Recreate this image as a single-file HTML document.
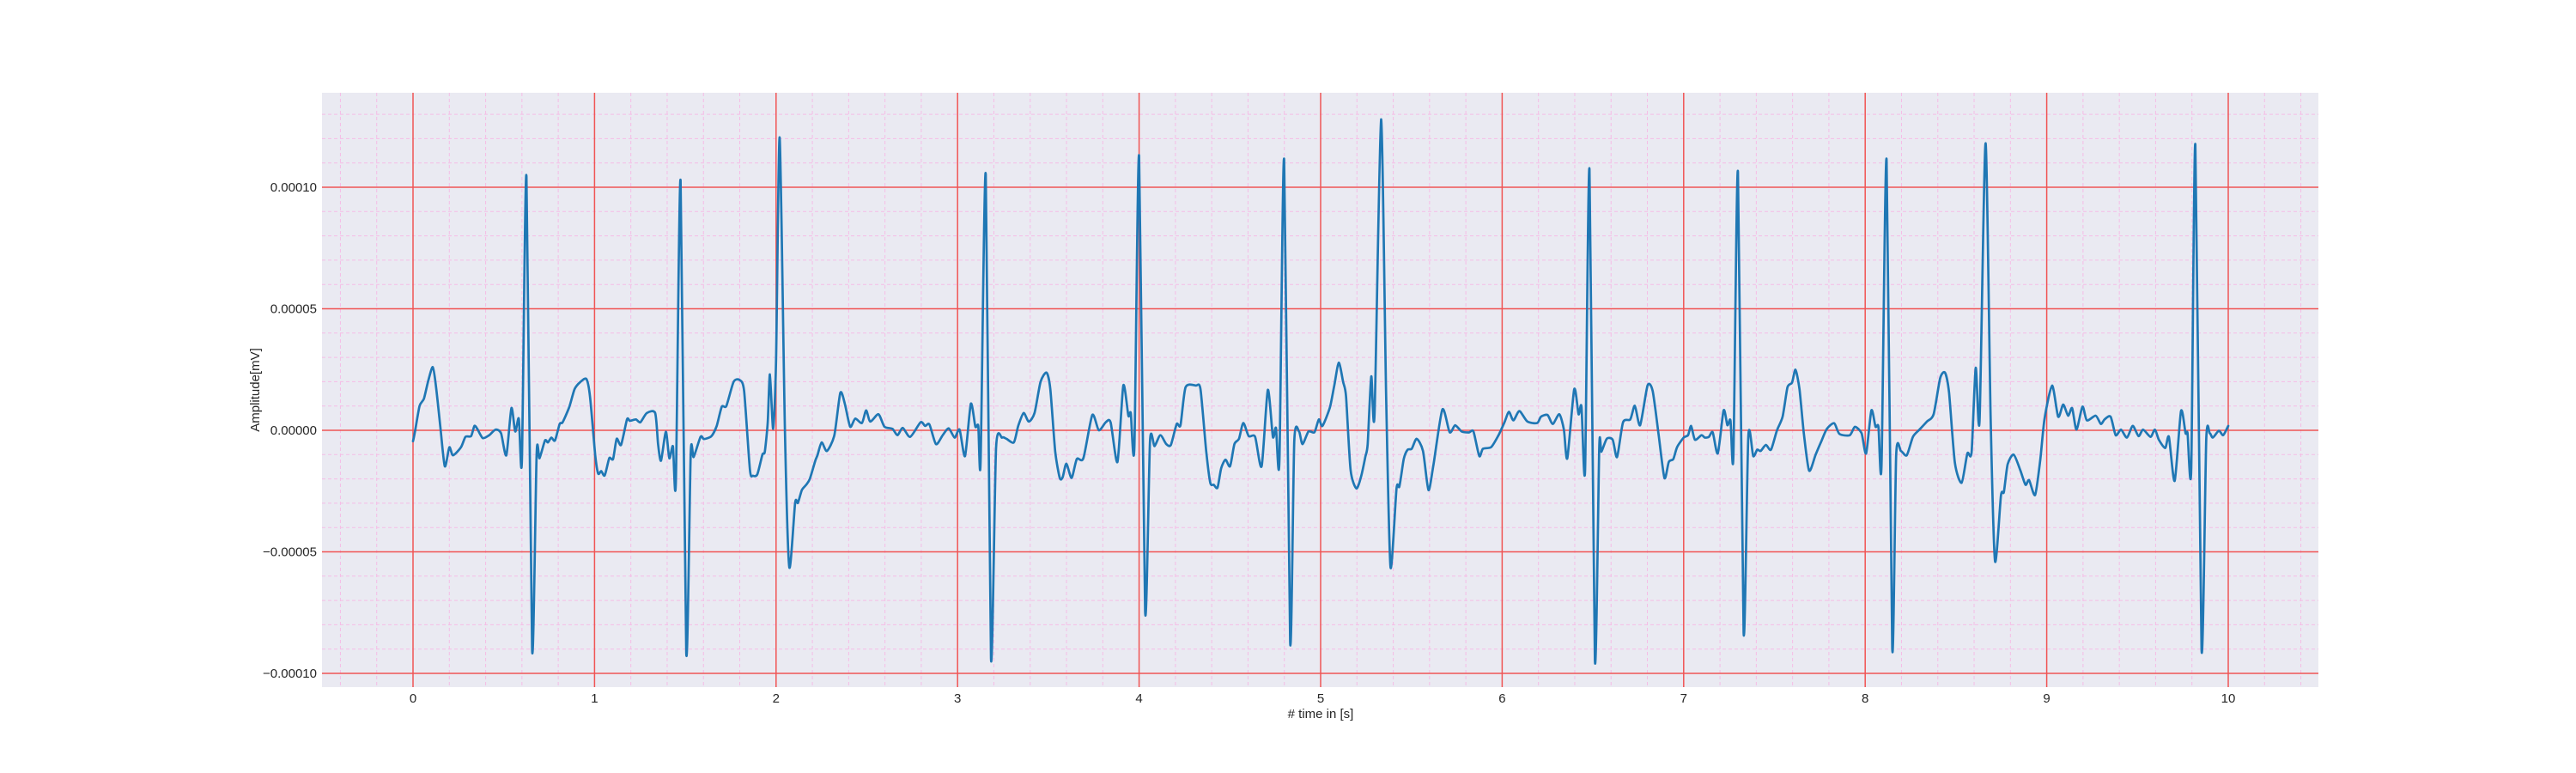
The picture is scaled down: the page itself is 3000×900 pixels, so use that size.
<!DOCTYPE html>
<html><head><meta charset="utf-8"><style>
html,body{margin:0;padding:0;background:#fff;}
svg{display:block;font-family:"Liberation Sans",sans-serif;}
</style></head><body>
<svg id="chart" width="3000" height="900" viewBox="0 0 3000 900" xmlns="http://www.w3.org/2000/svg">
<rect x="375" y="108" width="2325" height="692" fill="#eaeaf2"/>
<g id="grid"></g>
<g id="ticks"></g>
<path id="signal" fill="none" stroke="#1f77b4" stroke-width="2.7" stroke-linejoin="round" stroke-linecap="round"/>
<text x="1538" y="836" font-size="15" text-anchor="middle" fill="#262626"># time in [s]</text>
<text x="0" y="0" font-size="15" text-anchor="middle" fill="#262626" transform="translate(302,454) rotate(-90)">Amplitude[mV]</text>
</svg>
<script>
const xTicks=[0,1,2,3,4,5,6,7,8,9,10];
const yTicks=[-0.0001,-0.00005,0,0.00005,0.0001];
const yTickLabels=["\u22120.00010","\u22120.00005","0.00000","0.00005","0.00010"];
const times=[0,0.011,0.036,0.06,0.085,0.109,0.126,0.15,0.175,0.2,0.22,0.264,0.289,0.32,0.338,0.354,0.384,0.42,0.455,0.485,0.514,0.542,0.563,0.583,0.6,0.625,0.656,0.681,0.697,0.727,0.743,0.762,0.782,0.808,0.824,0.86,0.89,0.922,0.955,0.975,1.004,1.02,1.037,1.056,1.081,1.102,1.122,1.146,1.179,1.195,1.228,1.252,1.288,1.334,1.35,1.366,1.393,1.412,1.432,1.448,1.474,1.505,1.53,1.546,1.584,1.603,1.644,1.673,1.701,1.726,1.766,1.799,1.824,1.856,1.873,1.897,1.925,1.938,1.954,1.966,1.984,2.0,2.02,2.049,2.073,2.105,2.12,2.142,2.166,2.186,2.216,2.228,2.251,2.28,2.321,2.354,2.379,2.408,2.436,2.473,2.496,2.519,2.564,2.597,2.641,2.669,2.698,2.739,2.796,2.821,2.845,2.881,2.918,2.951,2.984,3.011,3.041,3.073,3.098,3.114,3.127,3.155,3.184,3.212,3.245,3.269,3.31,3.334,3.364,3.392,3.424,3.457,3.49,3.511,3.538,3.563,3.579,3.599,3.628,3.657,3.693,3.742,3.778,3.816,3.843,3.881,3.913,3.941,3.954,3.974,4.0,4.033,4.06,4.085,4.117,4.15,4.175,4.207,4.228,4.256,4.313,4.338,4.37,4.392,4.411,4.432,4.452,4.476,4.501,4.525,4.55,4.574,4.604,4.639,4.675,4.709,4.737,4.754,4.773,4.799,4.832,4.855,4.881,4.9,4.933,4.966,4.99,5.01,5.051,5.075,5.1,5.124,5.14,5.165,5.197,5.222,5.246,5.259,5.279,5.297,5.333,5.361,5.385,5.418,5.434,5.458,5.479,5.502,5.529,5.564,5.594,5.622,5.671,5.711,5.741,5.777,5.817,5.842,5.874,5.894,5.94,5.98,6.013,6.037,6.062,6.095,6.139,6.193,6.214,6.25,6.279,6.315,6.34,6.359,6.397,6.421,6.437,6.457,6.481,6.511,6.535,6.547,6.576,6.609,6.633,6.666,6.706,6.731,6.76,6.801,6.829,6.861,6.894,6.918,6.943,6.964,7.0,7.024,7.041,7.062,7.098,7.117,7.139,7.16,7.188,7.22,7.241,7.258,7.274,7.299,7.33,7.356,7.383,7.405,7.424,7.453,7.481,7.514,7.545,7.572,7.597,7.616,7.638,7.662,7.691,7.727,7.76,7.789,7.829,7.858,7.915,7.943,7.98,8.005,8.034,8.057,8.073,8.09,8.118,8.149,8.171,8.197,8.229,8.263,8.299,8.34,8.377,8.413,8.44,8.462,8.494,8.531,8.563,8.586,8.609,8.63,8.663,8.691,8.715,8.748,8.764,8.785,8.818,8.854,8.883,8.903,8.936,8.965,8.988,9.03,9.063,9.091,9.118,9.14,9.164,9.197,9.221,9.27,9.298,9.319,9.352,9.38,9.409,9.442,9.474,9.506,9.531,9.572,9.596,9.618,9.653,9.673,9.705,9.74,9.765,9.776,9.796,9.819,9.853,9.879,9.898,9.915,9.948,9.972,10.0];
const amplitudes=[-0.45,-0.05,1.0,1.3,2.07,2.6,1.84,0.18,-1.48,-0.7,-1.03,-0.7,-0.27,-0.24,0.18,0.06,-0.32,-0.2,0.03,-0.12,-1.03,0.91,-0.05,0.48,-1.25,10.45,-9.03,-0.95,-1.15,-0.42,-0.5,-0.3,-0.42,0.26,0.33,0.94,1.69,1.99,2.11,1.39,-1.03,-1.78,-1.68,-1.86,-1.15,-1.18,-0.35,-0.6,0.45,0.39,0.45,0.33,0.71,0.71,-0.57,-1.25,-0.06,-1.15,-0.66,-2.13,10.27,-9.14,-0.95,-1.1,-0.27,-0.36,-0.24,0.18,0.97,1.0,1.99,2.07,1.62,-1.63,-1.87,-1.81,-1.0,-0.88,0.33,2.3,0.06,2.9,12.04,-0.12,-5.63,-2.99,-2.99,-2.46,-2.24,-2.0,-1.25,-1.03,-0.5,-0.85,-0.2,1.54,1.09,0.15,0.48,0.3,0.82,0.36,0.66,0.15,0.06,-0.2,0.1,-0.27,0.33,0.18,0.24,-0.57,-0.2,0.08,-0.3,0.03,-1.06,1.09,0.15,0.18,-1.3,10.53,-9.37,-0.73,-0.3,-0.35,-0.5,0.18,0.71,0.36,0.71,1.99,2.37,1.69,-0.88,-1.96,-1.93,-1.37,-1.96,-1.18,-1.15,0.63,0.0,0.33,0.33,-1.3,1.84,0.6,0.71,-0.69,11.28,-7.45,-0.45,-0.65,-0.2,-0.57,-0.6,0.26,0.21,1.77,1.84,1.69,-0.88,-2.16,-2.24,-2.36,-1.56,-1.21,-1.48,-0.57,-0.35,0.3,-0.24,-0.27,-1.48,1.66,-0.27,0.1,-1.25,11.13,-8.7,-0.45,-0.05,-0.57,-0.05,-0.08,0.45,0.18,0.94,1.84,2.78,1.99,1.39,-1.63,-2.39,-1.93,-1.1,-0.57,2.22,0.66,12.79,1.39,-5.63,-2.39,-2.31,-1.18,-0.8,-0.76,-0.35,-0.85,-2.46,-1.4,0.86,-0.08,0.21,-0.05,-0.09,-0.05,-1.06,-0.76,-0.69,-0.2,0.33,0.76,0.41,0.79,0.36,0.3,0.56,0.63,0.26,0.66,0.03,-1.15,1.69,0.66,0.97,-1.63,10.73,-9.46,-0.69,-0.88,-0.35,-0.39,-1.1,0.33,0.45,1.01,0.21,1.84,1.62,-0.12,-1.96,-1.3,-1.18,-0.69,-0.3,-0.2,0.18,-0.39,-0.2,-0.3,-0.27,-0.08,-0.95,0.82,0.21,0.41,-1.06,10.63,-8.31,-0.24,-1.06,-0.8,-0.85,-0.6,-0.8,0.0,0.56,1.77,1.96,2.49,1.69,-0.12,-1.66,-1.0,-0.42,0.06,0.29,-0.15,-0.2,0.14,-0.12,-0.95,0.82,0.15,0.15,-1.45,11.13,-8.96,-1.0,-0.85,-1.03,-0.27,0.03,0.36,0.66,2.14,2.37,1.54,-1.33,-2.16,-0.95,-0.91,2.57,0.41,11.81,0.48,-5.38,-2.69,-2.54,-1.4,-1.0,-1.63,-2.24,-2.05,-2.66,-1.18,0.48,1.84,0.56,1.06,0.6,0.91,0.03,0.97,0.41,0.6,0.26,0.45,0.56,-0.2,0.03,-0.3,0.18,-0.24,0.03,-0.27,0.03,-0.39,-0.73,-0.27,-2.08,0.79,-0.12,-0.12,-1.6,11.74,-9.0,-0.35,-0.12,-0.3,-0.02,-0.2,0.18];
const ampScale=1e-5;

const X0=375,X1=2700,Y0=108,Y1=800;
function sx(t){return 481+t*(2595-481)/10;}
function sy(v){return 501-v*(501-218)/0.0001;}
const NS="http://www.w3.org/2000/svg";
const grid=document.getElementById('grid');
const ticks=document.getElementById('ticks');
function line(x1,y1,x2,y2,stroke,w,dash,name){
  const l=document.createElementNS(NS,'line');
  l.setAttribute('x1',x1);l.setAttribute('y1',y1);l.setAttribute('x2',x2);l.setAttribute('y2',y2);
  l.setAttribute('stroke',stroke);l.setAttribute('stroke-width',w);
  if(dash)l.setAttribute('stroke-dasharray',dash);
  
  
  grid.appendChild(l);
}
for(let i=-2;i<=52;i++){const t=i*0.2;if(Math.abs(t-Math.round(t))<1e-6)continue;const x=sx(t);if(x<X0||x>X1)continue;line(x,Y0,x,Y1,'#f5bde6',1,'4,3','minor-grid-x');}
for(let i=-12;i<=14;i++){if(i%5===0)continue;const y=sy(i*1e-5);if(y<Y0||y>Y1)continue;line(X0,y,X1,y,'#f5bde6',1,'4,3','minor-grid-y');}
xTicks.forEach(t=>{line(sx(t),Y0,sx(t),Y1,'#f05454',1.5,null,'major-grid-x');});
yTicks.forEach(v=>{line(X0,sy(v),X1,sy(v),'#f05454',1.5,null,'major-grid-y');});
xTicks.forEach(t=>{
  const tx=document.createElementNS(NS,'text');
  tx.setAttribute('x',sx(t));tx.setAttribute('y',818);tx.setAttribute('text-anchor','middle');
  tx.setAttribute('font-size','15');tx.setAttribute('fill','#262626');
  tx.textContent=String(t);
  
  
  ticks.appendChild(tx);
});
yTicks.forEach((v,i)=>{
  const tx=document.createElementNS(NS,'text');
  tx.setAttribute('x',369);tx.setAttribute('y',sy(v)+5);tx.setAttribute('text-anchor','end');
  tx.setAttribute('font-size','15');tx.setAttribute('fill','#262626');
  tx.textContent=yTickLabels[i];
  
  
  ticks.appendChild(tx);
});
// smooth path (Catmull-Rom, low tension) through the data points
const P=times.map((t,i)=>[sx(t),sy(amplitudes[i]*ampScale)]);
let d='M'+P[0][0].toFixed(1)+','+P[0][1].toFixed(1);
const k=0.12;
for(let i=0;i<P.length-1;i++){
  const p0=P[Math.max(0,i-1)],p1=P[i],p2=P[i+1],p3=P[Math.min(P.length-1,i+2)];
  const c1=[p1[0]+(p2[0]-p0[0])*k,p1[1]+(p2[1]-p0[1])*k];
  const c2=[p2[0]-(p3[0]-p1[0])*k,p2[1]-(p3[1]-p1[1])*k];
  d+=' C'+c1[0].toFixed(1)+','+c1[1].toFixed(1)+' '+c2[0].toFixed(1)+','+c2[1].toFixed(1)+' '+p2[0].toFixed(1)+','+p2[1].toFixed(1);
}
document.getElementById('signal').setAttribute('d',d);
</script>
</body></html>
